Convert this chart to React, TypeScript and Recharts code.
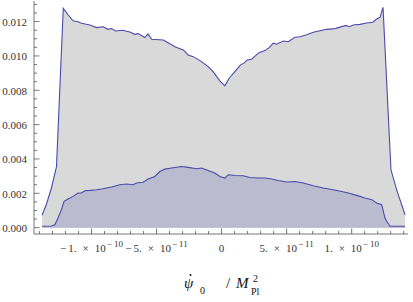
import React from 'react';
import { ComposedChart, Area, XAxis, YAxis } from 'recharts';

// x in units of 1e-11, y raw values
const upperX = [-13.8, -13.46, -13.08, -12.75, -12.69, -12.17, -11.8, -11.42, -11.03, -10.77, -10.13, -9.62, -9.11, -8.72, -8.46, -8.15, -7.62, -7.05, -6.67, -6.42, -5.9, -5.65, -5.38, -4.49, -4.11, -3.59, -2.95, -2.57, -2.18, -1.54, -1.03, -0.65, -0.13, 0.25, 0.58, 1.02, 1.46, 1.72, 1.97, 2.31, 2.87, 3.33, 3.66, 3.97, 4.23, 4.74, 5.12, 5.64, 6.02, 6.54, 7.05, 7.56, 8.08, 8.72, 9.56, 9.82, 10.12, 10.64, 11.15, 11.62, 11.92, 12.18, 12.41, 13.02, 13.46, 14.1];
const upperY = [0.00072, 0.00138, 0.00231, 0.00337, 0.00356, 0.01277, 0.0124, 0.01205, 0.01199, 0.0119, 0.0118, 0.01165, 0.0117, 0.01155, 0.0116, 0.01145, 0.0115, 0.0114, 0.01126, 0.0113, 0.01107, 0.01128, 0.01097, 0.01093, 0.01077, 0.01054, 0.01035, 0.01006, 0.00996, 0.00967, 0.00938, 0.00909, 0.00855, 0.00826, 0.0087, 0.00909, 0.00948, 0.00958, 0.00977, 0.00981, 0.01019, 0.01031, 0.01048, 0.01074, 0.01068, 0.01087, 0.01083, 0.01109, 0.01112, 0.01124, 0.01138, 0.01147, 0.01155, 0.01159, 0.01178, 0.0117, 0.0118, 0.01184, 0.01192, 0.01196, 0.01215, 0.01225, 0.01283, 0.00337, 0.0022, 0.00075];

const lowerX = [-13.8, -13.08, -12.82, -12.57, -12.31, -12.11, -11.8, -11.42, -11.03, -10.77, -10.52, -10.13, -9.62, -9.11, -8.46, -7.82, -7.31, -6.8, -6.54, -6.03, -5.65, -5.13, -4.75, -4.36, -3.85, -3.08, -2.57, -1.92, -1.54, -1.03, -0.52, -0.13, 0.25, 0.51, 1.02, 1.66, 2.18, 2.82, 3.33, 3.85, 4.35, 5.0, 5.64, 6.28, 7.05, 7.82, 8.58, 9.23, 9.74, 10.38, 11.02, 11.54, 11.92, 12.31, 12.56, 12.69, 12.95, 14.1];
const lowerY = [0.00008, 0.0001, 0.00017, 0.00056, 0.00105, 0.00153, 0.00167, 0.00182, 0.00202, 0.00202, 0.00215, 0.00217, 0.00221, 0.00227, 0.00237, 0.0025, 0.00254, 0.0025, 0.0026, 0.00264, 0.00283, 0.00298, 0.00327, 0.00341, 0.00347, 0.00356, 0.00351, 0.00343, 0.00347, 0.00333, 0.00318, 0.00298, 0.00289, 0.00308, 0.00304, 0.00302, 0.00292, 0.00289, 0.00289, 0.00283, 0.00275, 0.00266, 0.00269, 0.0026, 0.00244, 0.00231, 0.00221, 0.00211, 0.00202, 0.00188, 0.00173, 0.00163, 0.00144, 0.00134, 0.00056, 0.00037, 0.00008, 0.00008];

const xMajorTicks = [-10, -5, 0, 5, 10];
const xTickSign = ['\u2212', '\u2212', '', '', ''];
const xTickMantissa = ['1.', '5.', '0', '5.', '1.'];
const xTickExponent = ['10', '11', '', '11', '10'];
const yMajorTicks = [0, 0.002, 0.004, 0.006, 0.008, 0.01, 0.012];
const yTickLabels = ['0.000', '0.002', '0.004', '0.006', '0.008', '0.010', '0.012'];

const upperData = upperX.map((x, i) => ({ x, y: upperY[i] }));
const lowerData = lowerX.map((x, i) => ({ x, y: lowerY[i] }));

const X_DOMAIN: [number, number] = [-14.42, 14.33];
const Y_DOMAIN: [number, number] = [-0.00037, 0.0132];
const xAllTicks = Array.from({ length: 29 }, (_, i) => i - 14);
const yAllTicks = Array.from({ length: 27 }, (_, i) => Math.round(i * 5) / 10000);

const FONT = '"Liberation Serif", "Times New Roman", serif';
const AX = '#555';
const TXT = '#333';

const isXMajor = (v: number) => xMajorTicks.indexOf(v) >= 0;
const isYMajor = (v: number) => yMajorTicks.some((t) => Math.abs(t - v) < 1e-9);

const XTickBottom = (props: any) => {
  const { x, y, payload } = props;
  const v = payload.value;
  const major = isXMajor(v);
  const idx = xMajorTicks.indexOf(v);
  return (
    <g>
      <line x1={x} x2={x} y1={y} y2={y - (major ? 5.5 : 3)} stroke={AX} strokeWidth={0.8} />
      {major && (
        <text x={x} y={y + 18} textAnchor="middle" fontFamily={FONT} fontSize={11} fill={TXT}>
          {xTickExponent[idx] ? (
            <>
              {xTickSign[idx] ? <tspan>{xTickSign[idx]}</tspan> : null}
              <tspan dx={xTickSign[idx] ? 2 : 0}>{xTickMantissa[idx]}</tspan>
              <tspan dx={6}>×</tspan>
              <tspan dx={6}>10</tspan>
              <tspan dx={1} dy={-5} fontSize={9}>{'\u2212'}</tspan>
              <tspan dx={2} fontSize={9}>{xTickExponent[idx]}</tspan>
            </>
          ) : (
            <tspan>{xTickMantissa[idx]}</tspan>
          )}
        </text>
      )}
    </g>
  );
};

const XTickTop = (props: any) => {
  const { x, y, payload } = props;
  const major = isXMajor(payload.value);
  return <line x1={x} x2={x} y1={y} y2={y + (major ? 5.5 : 3)} stroke={AX} strokeWidth={0.8} />;
};

const YTickLeft = (props: any) => {
  const { x, y, payload } = props;
  const v = payload.value;
  const major = isYMajor(v);
  const idx = yMajorTicks.findIndex((t) => Math.abs(t - v) < 1e-9);
  return (
    <g>
      <line x1={x} x2={x + (major ? 5.5 : 3)} y1={y} y2={y} stroke={AX} strokeWidth={0.8} />
      {major && (
        <text x={x - 7} y={y + 4.5} textAnchor="end" fontFamily={FONT} fontSize={11} fill={TXT}>
          {yTickLabels[idx]}
        </text>
      )}
    </g>
  );
};

const YTickRight = (props: any) => {
  const { x, y, payload } = props;
  const major = isYMajor(payload.value);
  return <line x1={x} x2={x - (major ? 5.5 : 3)} y1={y} y2={y} stroke={AX} strokeWidth={0.8} />;
};

const XTitle = (props: any) => {
  const vb = props.viewBox || { x: 34, width: 374, y: 234 };
  const cx = vb.x + vb.width / 2;
  const by = vb.y + 54;
  return (
    <g fontFamily={FONT} fill="#111">
      <text x={cx - 37} y={by} fontSize={15} fontStyle="italic">{'\u03C8'}</text>
      <circle cx={cx - 30.5} cy={by - 13} r={1} fill="#111" />
      <text x={cx - 21} y={by + 6} fontSize={10}>0</text>
      <text x={cx + 5} y={by} fontSize={15}>/</text>
      <text x={cx + 15} y={by} fontSize={15} fontStyle="italic">M</text>
      <text x={cx + 30} y={by + 7} fontSize={10}>Pl</text>
      <text x={cx + 32} y={by - 6} fontSize={10}>2</text>
    </g>
  );
};

export default function App() {
  return (
    <div style={{ position: 'absolute', left: 0, top: 0, width: 413, height: 302, background: '#fff' }}>
      <ComposedChart width={413} height={302} margin={{ top: 1, right: 5, bottom: 0, left: 0 }}>
        <XAxis
          xAxisId="b"
          type="number"
          dataKey="x"
          domain={X_DOMAIN}
          allowDataOverflow
          ticks={xAllTicks}
          interval={0}
          tickSize={0}
          tickMargin={0}
          tickLine={false}
          tick={<XTickBottom />}
          axisLine={{ stroke: AX, strokeWidth: 0.8 }}
          height={68}
          label={<XTitle />}
        />
        <XAxis
          xAxisId="t"
          orientation="top"
          type="number"
          dataKey="x"
          domain={X_DOMAIN}
          allowDataOverflow
          ticks={xAllTicks}
          interval={0}
          tickSize={0}
          tickMargin={0}
          tickLine={false}
          tick={<XTickTop />}
          axisLine={{ stroke: AX, strokeWidth: 0.8 }}
          height={0}
        />
        <YAxis
          yAxisId="l"
          type="number"
          domain={Y_DOMAIN}
          allowDataOverflow
          ticks={yAllTicks}
          interval={0}
          tickSize={0}
          tickMargin={0}
          tickLine={false}
          tick={<YTickLeft />}
          axisLine={{ stroke: AX, strokeWidth: 0.8 }}
          width={34}
        />
        <YAxis
          yAxisId="r"
          orientation="right"
          type="number"
          domain={Y_DOMAIN}
          allowDataOverflow
          ticks={yAllTicks}
          interval={0}
          tickSize={0}
          tickMargin={0}
          tickLine={false}
          tick={<YTickRight />}
          axisLine={{ stroke: AX, strokeWidth: 0.8 }}
          width={0}
        />
        <Area
          xAxisId="b"
          yAxisId="l"
          data={upperData}
          dataKey="y"
          type="linear"
          stroke="#4a4aad"
          strokeWidth={1.1}
          fill="#d9d9d9"
          fillOpacity={1}
          dot={false}
          activeDot={false}
          isAnimationActive={false}
        />
        <Area
          xAxisId="b"
          yAxisId="l"
          data={lowerData}
          dataKey="y"
          type="linear"
          stroke="#4a4aad"
          strokeWidth={1.1}
          fill="#bbbbd0"
          fillOpacity={1}
          dot={false}
          activeDot={false}
          isAnimationActive={false}
        />
      </ComposedChart>
    </div>
  );
}
